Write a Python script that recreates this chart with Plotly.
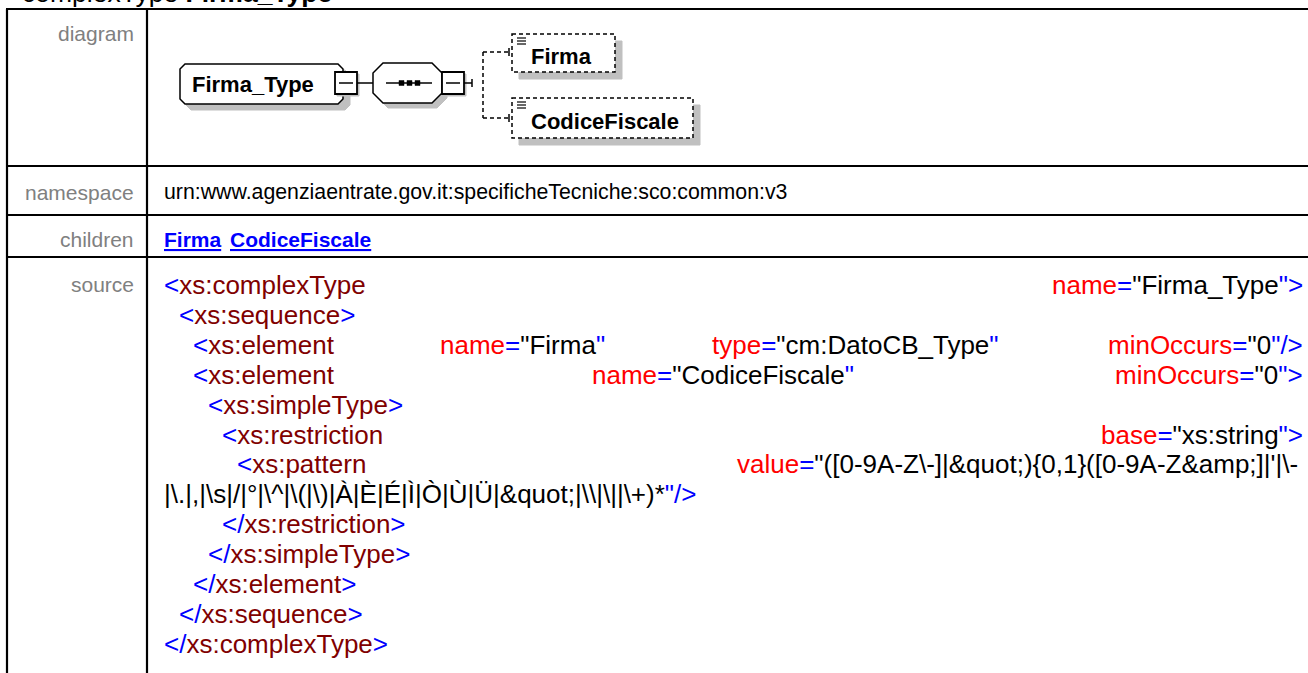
import plotly.graph_objects as go

W, H = 1308, 673

# ---------------- content ----------------
title_kind = "complexType"
title_name = "Firma_Type"
row_labels = ["diagram", "namespace", "children", "source"]
namespace_uri = "urn:www.agenziaentrate.gov.it:specificheTecniche:sco:common:v3"
child_links = ["Firma", "CodiceFiscale"]
diagram_root = "Firma_Type"
diagram_children = ["Firma", "CodiceFiscale"]

source_tags = ["xs:complexType", "xs:sequence", "xs:element", "xs:element",
               "xs:simpleType", "xs:restriction", "xs:pattern", None,
               "/xs:restriction", "/xs:simpleType", "/xs:element",
               "/xs:sequence", "/xs:complexType"]
source_indents = [0, 1, 2, 2, 3, 4, 5, 0, 4, 3, 2, 1, 0]
source_attrs = [
    [("name", "Firma_Type", "R")],
    [],
    [("name", "Firma", "c1"), ("type", "cm:DatoCB_Type", "c2"), ("minOccurs", "0", "R")],
    [("name", "CodiceFiscale", "c3"), ("minOccurs", "0", "R")],
    [],
    [("base", "xs:string", "R")],
    [("value", r"([0-9A-Z\-]|&quot;){0,1}([0-9A-Z&amp;]|'|\-", "open")],
    [],
    [], [], [], [], [],
]
source_ends = [">", ">", "/>", ">", ">", ">", "", "", ">", ">", ">", ">", ">"]
pattern_tail = r"|\.|,|\s|/|°|\^|\(|\)|À|È|É|Ì|Ò|Ù|Ü|&quot;|\\|\||\+)*"

# ---------------- styling / layout ----------------
FONT = "Liberation Sans, Arial, sans-serif"
BLUE, DRED, RED, BLK, GRAY = "#0000FF", "#800000", "#FF0000", "#000000", "#808080"
SHADOW = "#C0C0C0"
col_x = {"c1": 438, "c2": 710, "c3": 590, "open": 735}
RIGHT_X = 1305
TEXT_X0 = 162
INDENT = 14.6
SRC_Y0 = 285
SRC_DY = 29.9
SRC_SIZE = 26

def esc(s):
    return s.replace("&", "&#38;").replace("<", "&#60;").replace(">", "&#62;")

def sp(txt, color):
    return '<span style="color:%s">%s</span>' % (color, esc(txt))

shapes = []
annotations = []

def add_line(x0, y0, x1, y1, w=2, color="black", dash=None):
    ln = dict(color=color, width=w)
    if dash:
        ln["dash"] = dash
    shapes.append(dict(type="line", xref="x", yref="y", x0=x0, y0=y0, x1=x1, y1=y1, line=ln))

def add_rect(x0, y0, x1, y1, fill=None, color="black", w=1.5, dash=None):
    ln = dict(color=color, width=w)
    if dash:
        ln["dash"] = dash
    shapes.append(dict(type="rect", xref="x", yref="y", x0=x0, y0=y0, x1=x1, y1=y1,
                       fillcolor=fill if fill else "rgba(0,0,0,0)", line=ln))

def octagon(x0, y0, x1, y1, c):
    return ("M %g,%g L %g,%g L %g,%g L %g,%g L %g,%g L %g,%g L %g,%g L %g,%g Z" %
            (x0 + c, y0, x1 - c, y0, x1, y0 + c, x1, y1 - c, x1 - c, y1, x0 + c, y1, x0, y1 - c, x0, y0 + c))

def add_path(p, fill, color="black", w=1.5):
    shapes.append(dict(type="path", xref="x", yref="y", path=p, fillcolor=fill,
                       line=dict(color=color, width=w)))

def add_text(x, y, text, size, xanchor="left", color=BLK, bold=False, yshift=0):
    t = "<b>%s</b>" % text if bold else text
    annotations.append(dict(x=x, y=y, xref="x", yref="y", text=t, showarrow=False,
                            xanchor=xanchor, yanchor="middle", align=xanchor, yshift=yshift,
                            font=dict(family=FONT, size=size, color=color)))

# ---------------- table grid ----------------
TL, TD = 7, 147
row_lines = [9, 166, 215, 257]
for y in row_lines:
    add_line(TL - 1, y, W + 5, y, w=2.2)
add_line(TL, 9, TL, H + 5, w=2.2)
add_line(TD, 9, TD, H + 5, w=2.2)

# title (cut off at top of the page, as in the reference)
add_text(20, 1, esc(title_kind) + " <b>" + esc(title_name) + "</b>", 26.5, yshift=8)

# row labels
label_y = [33, 192, 239, 284]
for lab, y in zip(row_labels, label_y):
    add_text(136, y, esc(lab), 21, xanchor="right", color=GRAY)

# namespace & children
add_text(TEXT_X0, 192, esc(namespace_uri), 21.3)
child_x = [TEXT_X0, 228]
for name, x in zip(child_links, child_x):
    add_text(x, 239, "<u>" + esc(name) + "</u>", 21, color=BLUE, bold=True)

# ---------------- diagram ----------------
CY = 83
# root element box
add_path(octagon(186, 70, 350, 110, 5), SHADOW, color=SHADOW, w=1)
add_path(octagon(180, 64, 343, 104, 5), "white")
add_text(190, CY + 1, esc(diagram_root), 22, bold=True)
# minus box 1
add_rect(337, 74, 359, 96, fill=SHADOW, color=SHADOW, w=1)
add_rect(335, 72, 357, 94, fill="white", w=1.8)
add_line(339, CY, 353, CY, w=1.5)
add_line(357, CY, 373, CY, w=1.5)
# sequence compositor
add_path(octagon(378, 68, 447, 108, 10), SHADOW, color=SHADOW, w=1)
add_path(octagon(373, 63, 442, 103, 10), "white")
add_line(386, CY, 432, CY, w=1.5)
for dx in (399, 407, 415):
    add_rect(dx, CY - 2.5, dx + 5, CY + 2.5, fill="black", w=0.5)
# minus box 2
add_rect(444, 74, 466, 96, fill=SHADOW, color=SHADOW, w=1)
add_rect(442, 72, 464, 94, fill="white", w=1.8)
add_line(446, CY, 460, CY, w=1.5)
add_line(464, CY, 472, CY, w=1.5)
add_line(472, CY - 4, 472, CY + 4, w=1.5)
# dashed connectors
DSH = "4px,3px"
VX = 483
child_y = [(34, 72), (98, 138)]
child_w = [615, 693]
add_line(VX, 52, VX, 118, w=1.5, dash=DSH)
for (y0, y1) in child_y:
    ym = 52 if y0 < 50 else 118
    add_line(VX, ym, 508, ym, w=1.5, dash=DSH)
    add_line(509, ym - 4, 509, ym + 4, w=1.5)
for name, (y0, y1), x1 in zip(diagram_children, child_y, child_w):
    add_rect(512 + 7, y0 + 7, x1 + 7, y1 + 7, fill=SHADOW, color=SHADOW, w=1)
    add_rect(512, y0, x1, y1, fill="white", w=1.5, dash=DSH)
    for k in range(3):
        add_line(517, y0 + 4 + 3 * k, 526, y0 + 4 + 3 * k, w=1.2)
    add_text(529, (y0 + y1) / 2 + 3, esc(name), 22, bold=True)

# ---------------- source ----------------
for i, tag in enumerate(source_tags):
    y = SRC_Y0 + i * SRC_DY
    x = TEXT_X0 + source_indents[i] * INDENT
    attrs = source_attrs[i]
    end = source_ends[i]
    if tag is None:
        txt = sp(pattern_tail, BLK) + sp('"', BLUE) + sp("/>", BLUE)
        add_text(x, y, txt, SRC_SIZE)
        continue
    if tag.startswith("/"):
        head = sp("</", BLUE) + sp(tag[1:], DRED)
    else:
        head = sp("<", BLUE) + sp(tag, DRED)
    if not attrs:
        head += sp(end, BLUE)
    add_text(x, y, head, SRC_SIZE)
    for j, (an, av, col) in enumerate(attrs):
        last = j == len(attrs) - 1
        t = sp(an, RED) + sp("=", BLUE) + sp('"' + av, BLK)
        if col != "open":
            t += sp('"', BLUE)
        if last and end:
            t += sp(end, BLUE)
        if col == "R":
            add_text(RIGHT_X, y, t, SRC_SIZE, xanchor="right")
        else:
            add_text(col_x[col], y, t, SRC_SIZE)

fig = go.Figure()
fig.update_layout(
    width=W, height=H, autosize=False,
    margin=dict(l=0, r=0, t=0, b=0, pad=0),
    paper_bgcolor="white", plot_bgcolor="white",
    xaxis=dict(range=[0, W], visible=False, fixedrange=True),
    yaxis=dict(range=[H, 0], visible=False, fixedrange=True),
    shapes=shapes, annotations=annotations, showlegend=False,
)
fig.write_html("out.html", config={"displayModeBar": False, "staticPlot": True},
               post_script="document.body.style.margin='0';document.body.style.overflow='hidden';")
